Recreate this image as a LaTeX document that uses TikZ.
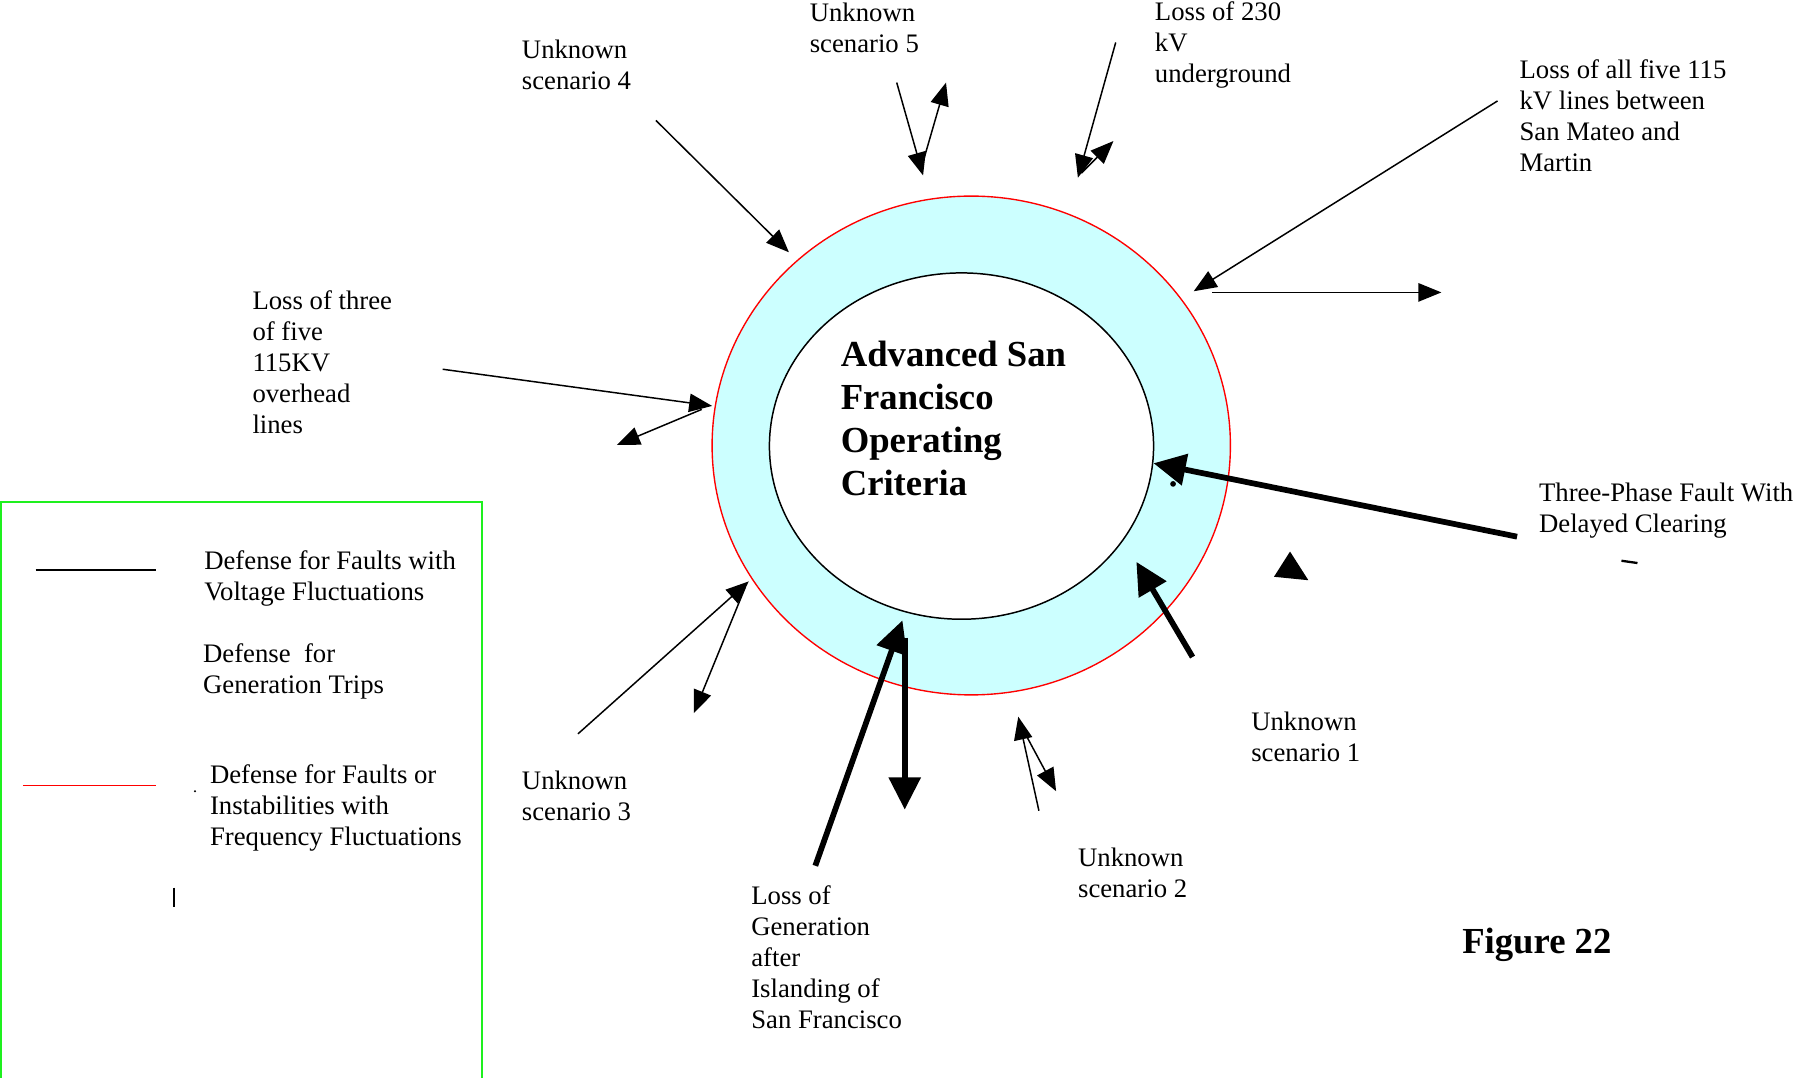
\documentclass[tikz,border=0pt]{standalone}
\usepackage{fontspec}
\setmainfont{Liberation Serif}
\usetikzlibrary{arrows.meta,shapes.geometric}
\definecolor{ringfill}{RGB}{204,255,255}
\definecolor{legendgreen}{RGB}{30,240,30}
\begin{document}
\begin{tikzpicture}[x=1pt,y=-1pt,
  lbl/.style={anchor=north west, inner sep=0pt, align=left, font=\fontsize{23.3}{27}\selectfont},
  boldlbl/.style={anchor=north west, inner sep=0pt, align=left, font=\bfseries\fontsize{32}{37.7}\selectfont},
  thinarrow/.style={line width=1.3pt, -{Triangle[length=20pt,width=16pt]}},
  heavyarrow/.style={line width=5pt, -{Triangle[length=28pt,width=27pt]}},
  legendline/.style={line width=1.2pt},
]
\useasboundingbox (0,0) rectangle (1568,940);

% the two rings of the criteria
\node[ellipse, draw=red, fill=ringfill, line width=1.2pt, inner sep=0pt,
      minimum width=452pt, minimum height=435pt] (outer) at (847,388.5) {};
\node[ellipse, draw=black, fill=white, line width=1.3pt, inner sep=0pt,
      minimum width=335pt, minimum height=302pt] (inner) at (838.5,389) {};
\node[boldlbl] (title) at (733,297) {Advanced San\\Francisco\\Operating\\Criteria};

% scenario labels
\node[lbl] (sc4) at (455,35) {Unknown\\scenario 4};
\node[lbl] (sc5) at (706,2) {Unknown\\scenario 5};
\node[lbl] (l230) at (1007,1) {Loss of 230\\kV\\underground};
\node[lbl] (lall) at (1325,52) {Loss of all five 115\\kV lines between\\San Mateo and\\Martin};
\node[lbl] (lthree) at (220,253) {Loss of three\\of five\\115KV\\overhead\\lines};
\node[lbl] (tpf) at (1342,421) {Three-Phase Fault With\\Delayed Clearing};
\node[lbl] (sc1) at (1091,621) {Unknown\\scenario 1};
\node[lbl] (sc3) at (455,672) {Unknown\\scenario 3};
\node[lbl] (sc2) at (940,739) {Unknown\\scenario 2};
\node[lbl] (lgen) at (655,772) {Loss of\\Generation\\after\\Islanding of\\San Francisco};
\node[boldlbl] (fig) at (1275,809) {Figure 22};

% arrow end points
\coordinate (s4a) at (572,105);  \coordinate (s4b) at (688,220);
\coordinate (s5a) at (782,72);   \coordinate (s5b) at (805,153);
\coordinate (s5c) at (803,148);  \coordinate (s5d) at (825,72);
\coordinate (u1) at (973,37);    \coordinate (u2) at (940,155);
\coordinate (u3) at (943,151);   \coordinate (u4) at (971,123);
\coordinate (m1) at (1306,88);   \coordinate (m2) at (1041,254);
\coordinate (m3) at (1057,255);  \coordinate (m4) at (1257,255);
\coordinate (o1) at (386,322);   \coordinate (o2) at (621,354);
\coordinate (o3) at (612,357);   \coordinate (o4) at (538,388);
\coordinate (f1) at (1323,468);  \coordinate (f2) at (1006,404);
\coordinate (a1) at (1040,573);  \coordinate (a2) at (991,490);
\coordinate (g1) at (711,755);   \coordinate (g2) at (787,541);
\coordinate (g3) at (789,556);   \coordinate (g4) at (789,706);
\coordinate (c1) at (504,640);   \coordinate (c2) at (653,507);
\coordinate (c3) at (650,512);   \coordinate (c4) at (605,622);
\coordinate (b1) at (906,707);   \coordinate (b2) at (888,625);
\coordinate (b3) at (892,636);   \coordinate (b4) at (921,690);

% thin arrows
\draw[thinarrow] (s4a) -- (s4b);
\draw[thinarrow] (s5a) -- (s5b);
\draw[thinarrow] (s5c) -- (s5d);
\draw[thinarrow] (u1) -- (u2);
\draw[thinarrow] (u3) -- (u4);
\draw[thinarrow] (m1) -- (m2);
\draw[thinarrow] (m3) -- (m4);
\draw[thinarrow] (o1) -- (o2);
\draw[thinarrow] (o3) -- (o4);
\draw[thinarrow] (c1) -- (c2);
\draw[thinarrow] (c3) -- (c4);
\draw[thinarrow] (b1) -- (b2);
\draw[thinarrow] (b3) -- (b4);

% heavy arrows
\draw[heavyarrow] (f1) -- (f2);
\draw[heavyarrow] (a1) -- (a2);
\draw[heavyarrow] (g1) -- (g2);
\draw[heavyarrow] (g3) -- (g4);

% stray marks
\fill (1023,422) circle (2.5pt);
\fill (1111,503) -- (1125,481) -- (1141,506) -- cycle;
\draw[line width=2pt] (1414,489) -- (1428,491);

% legend
\draw[legendgreen, line width=1.8pt] (1,945) -- (1,438) -- (420,438) -- (420,945);
\draw[legendline] (31,497) -- (136,497);
\draw[legendline, red] (20,685) -- (136,685);
\fill (170,690) circle (1pt);
\draw[line width=2pt] (152,774) -- (152,791);
\node[lbl] (leg1) at (178,480) {Defense for Faults with\\Voltage Fluctuations};
\node[lbl] (leg2) at (177,561) {Defense~ for\\Generation Trips};
\node[lbl] (leg3) at (183,667) {Defense for Faults or\\Instabilities with\\Frequency Fluctuations};
\end{tikzpicture}
\end{document}
